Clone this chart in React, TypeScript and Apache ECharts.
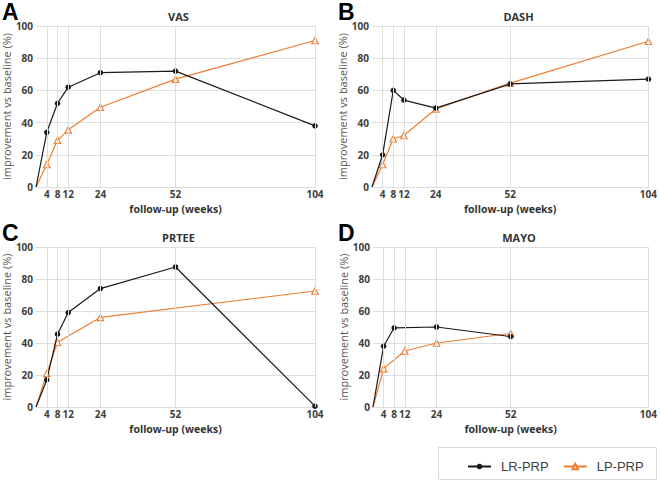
import React, { useEffect, useRef } from "react";
import * as echarts from "echarts";

const weeks = [4, 8, 12, 24, 52, 104];
const panelTitles = ["VAS", "DASH", "PRTEE", "MAYO"];
const panelLetters = ["A", "B", "C", "D"];
const seriesNames = ["LR-PRP", "LP-PRP"];

const vasLR = [34, 52, 62, 71, 72, 38];
const vasLP = [14, 29, 35.5, 49.5, 67, 91];
const dashLR = [20, 60, 54, 49, 64, 67];
const dashLP = [14, 30, 32, 48.5, 64.5, 90.5];
const prteeLR = [17, 45.5, 59, 74, 87.5, 0.5];
const prteeLP = [21, 40.5, null, 56, null, 72.5];
const mayoLR = [38, 49.5, null, 50, 44, null];
const mayoLP = [24, null, 35, 40, 46, null];

const lrData = [vasLR, dashLR, prteeLR, mayoLR];
const lpData = [vasLP, dashLP, prteeLP, mayoLP];

const BLACK = "#1a1a1a";
const ORANGE = "#ED7D31";
const FONT = "Open Sans";
const GRIDC = "#dedede";

const grids = [
  { left: 32, top: 26, width: 283, height: 161 },
  { left: 372, top: 26, width: 283, height: 161 },
  { left: 32, top: 247, width: 283, height: 160 },
  { left: 373, top: 247, width: 282, height: 160 },
];

const letterPos = [
  [2, 0],
  [338, 0],
  [2, 221],
  [338, 221],
];

function toPoints(vals: (number | null)[]) {
  const pts: any[] = [{ value: [0, 0], symbol: "none" }];
  weeks.forEach((w, i) => {
    const v = vals[i];
    if (v !== null && v !== undefined) pts.push({ value: [w, v] });
  });
  return pts;
}

export default function App() {
  const ref = useRef<HTMLDivElement>(null);
  useEffect(() => {
    if (!ref.current) return;
    const chart = echarts.init(ref.current, undefined, { renderer: "svg" });
    const xAxis: any[] = [];
    const yAxis: any[] = [];
    const series: any[] = [];
    const title: any[] = [];
    grids.forEach((g, i) => {
      title.push({
        text: panelTitles[i],
        left: g.left + g.width / 2,
        top: g.top - 20,
        textAlign: "center",
        textStyle: { fontFamily: FONT, fontSize: 11, fontWeight: "bold", color: "#333" },
      });
      xAxis.push({
        type: "value",
        gridIndex: i,
        min: 0,
        max: 104,
        name: "follow-up (weeks)",
        nameLocation: "middle",
        nameGap: 16,
        nameTextStyle: {
          fontFamily: FONT,
          fontSize: 10.5,
          lineHeight: 12,
          fontWeight: "bold",
          color: "#333",
        },
        axisLine: { show: true, lineStyle: { color: GRIDC, width: 1 } },
        axisTick: { show: false, customValues: weeks },
        axisLabel: {
          customValues: weeks,
          fontFamily: FONT,
          fontSize: 10,
          lineHeight: 10,
          fontWeight: "bold",
          color: "#404040",
          margin: 2,
        },
        splitLine: { show: false },
      });
      yAxis.push({
        type: "value",
        gridIndex: i,
        min: 0,
        max: 100,
        interval: 20,
        name: "improvement vs baseline (%)",
        nameLocation: "middle",
        nameGap: 22,
        nameTextStyle: { fontFamily: FONT, fontSize: 11, color: "#555" },
        axisLine: { show: false },
        axisTick: { show: false },
        axisLabel: {
          fontFamily: FONT,
          fontSize: 10,
          fontWeight: "bold",
          color: "#404040",
          margin: 3,
        },
        splitLine: { show: true, lineStyle: { color: GRIDC, width: 1 } },
      });
      series.push({
        name: seriesNames[0],
        type: "line",
        xAxisIndex: i,
        yAxisIndex: i,
        data: toPoints(lrData[i]),
        symbol: "circle",
        symbolSize: 5.5,
        z: 3,
        lineStyle: { color: BLACK, width: 1.2 },
        itemStyle: { color: BLACK },
        markLine: {
          silent: true,
          symbol: ["none", "none"],
          label: { show: false },
          lineStyle: { color: GRIDC, type: "solid", width: 1 },
          emphasis: { disabled: true },
          data: weeks.map((w) => ({ xAxis: w })),
        },
      });
      series.push({
        name: seriesNames[1],
        type: "line",
        xAxisIndex: i,
        yAxisIndex: i,
        data: toPoints(lpData[i]),
        symbol: "triangle",
        symbolSize: 6.5,
        z: 2,
        lineStyle: { color: ORANGE, width: 1.2 },
        itemStyle: { color: "#fff", borderColor: ORANGE, borderWidth: 1.1 },
      });
    });

    const graphic: any[] = panelLetters.map((l, i) => ({
      type: "text",
      left: letterPos[i][0],
      top: letterPos[i][1],
      style: {
        text: l,
        font: "bold 23px 'Liberation Sans', Arial, sans-serif",
        fill: "#000",
      },
    }));
    graphic.push({
      type: "rect",
      left: 438,
      top: 447,
      shape: { width: 218, height: 32 },
      style: { fill: "#fff", stroke: "#d9d9d9", lineWidth: 1 },
      z: -1,
    });

    chart.setOption({
      animation: false,
      backgroundColor: "#fff",
      title,
      grid: grids.map((g) => ({ ...g, containLabel: false })),
      xAxis,
      yAxis,
      series,
      graphic,
      legend: {
        data: [
          { name: seriesNames[0], itemStyle: { color: BLACK } },
          { name: seriesNames[1], itemStyle: { color: "#fff", borderColor: ORANGE } },
        ],
        left: 462,
        top: 455,
        itemWidth: 23,
        itemHeight: 7,
        itemGap: 14,
        textStyle: {
          fontFamily: "Liberation Sans",
          fontSize: 13,
          color: "#404040",
          padding: [0, 0, 0, 5],
        },
      },
    });
    return () => chart.dispose();
  }, []);
  return (
    <div
      ref={ref}
      style={{ position: "fixed", left: 0, top: 0, width: 660, height: 482, background: "#fff" }}
    />
  );
}
